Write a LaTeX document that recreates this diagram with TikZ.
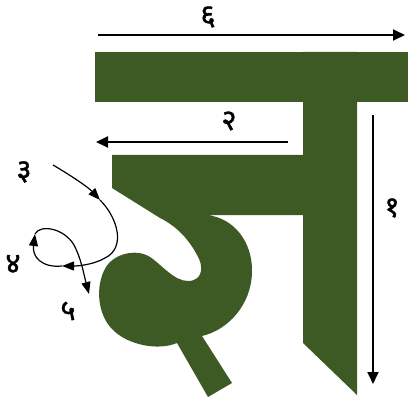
\documentclass[tikz,border=0pt]{standalone}
\usepackage{fontspec}
\newfontfamily\devfont[Script=Devanagari, FakeBold=1.5]{Noto Sans}
\usetikzlibrary{positioning, arrows.meta}
\definecolor{jhagreen}{RGB}{62,90,36}

\begin{document}
\begin{tikzpicture}[
  x=1pt, y=-1pt,
  glyph/.style={fill=jhagreen, draw=none},
  strokeline/.style={-{Triangle[length=12pt, width=11pt]}, line width=1.8pt},
  curveline/.style={-{Triangle[length=12pt, width=9pt]}, line width=1.2pt},
  num/.style={font=\devfont\fontsize{29}{29}\selectfont, inner sep=0pt}
]
  \useasboundingbox (0,0) rectangle (413,404);

  % the letter
  \fill[glyph] (95,52) rectangle (408,102);
  \fill[glyph] (303,52) -- (357,52) -- (357,395) -- (303,343) -- cycle;
  \fill[glyph] (112,155) -- (303,155) -- (303,215) -- (207,215)
    .. controls (234,218) and (253,242) .. (252,273)
    .. controls (251,305) and (228,330) .. (202,336)
    -- (232,383) -- (208,397) -- (177,343)
    .. controls (158,351) and (128,345) .. (113,330)
    .. controls (97,315) and (95,285) .. (106,267)
    .. controls (114,254) and (136,248) .. (150,257)
    .. controls (162,265) and (174,281) .. (188,281)
    .. controls (203,281) and (204,266) .. (197,255)
    .. controls (188,238) and (176,226) .. (160,218)
    -- (112,188) -- cycle;

  % stroke order
  \coordinate (s6a) at (98,35);
  \coordinate (s6b) at (405,35);
  \coordinate (s2a) at (288,142);
  \coordinate (s2b) at (96,142);
  \coordinate (s1a) at (373,115);
  \coordinate (s1b) at (373,384);
  \coordinate (s3a) at (53,165);
  \coordinate (s3b) at (100,200);
  \coordinate (s3c) at (62,266);
  \coordinate (s4) at (35,234);
  \coordinate (s5) at (89,294);

  \draw[strokeline] (s6a) -- (s6b);
  \draw[strokeline] (s2a) -- (s2b);
  \draw[strokeline] (s1a) -- (s1b);
  \draw[curveline] (s3a) .. controls (70,175) and (88,187) .. (s3b);
  \draw[curveline] (s3b) .. controls (118,218) and (126,248) .. (105,258)
    .. controls (95,264) and (80,266) .. (s3c);
  \draw[curveline] (s3c) .. controls (42,268) and (32,257) .. (s4);
  \draw[curveline] (s4) .. controls (40,224) and (64,228) .. (74,245)
    .. controls (81,258) and (84,275) .. (s5);

  \node[num] (n6) at (208,17) {६};
  \node[num] (n2) at (229,121) {२};
  \node[num] (n1) at (392,208) {१};
  \node[num] (n3) at (24,172) {३};
  \node[num] (n4) at (13,264) {४};
  \node[num] (n5) at (68,311) {५};
\end{tikzpicture}
\end{document}
